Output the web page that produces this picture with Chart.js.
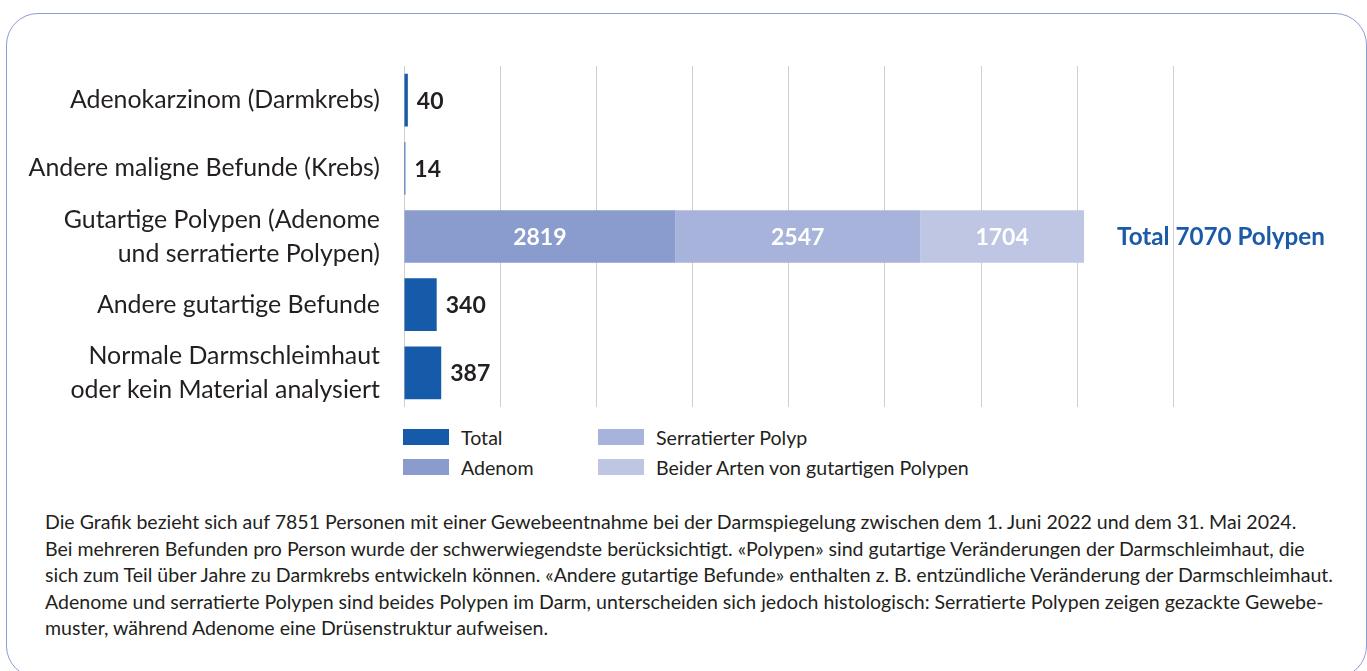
<!DOCTYPE html>
<html><head><meta charset="utf-8">
<script src="https://cdn.jsdelivr.net/npm/chart.js@4/dist/chart.umd.min.js"></script>
<style>
html,body{margin:0;padding:0;background:#fff;width:1367px;height:671px;overflow:hidden;font-family:Lato,"Open Sans",sans-serif;color:#231f20;}
#frame{position:absolute;left:6px;top:13px;width:1360.5px;height:665px;border:1.5px solid #8e9cd6;border-radius:32px;box-sizing:border-box;}
#c{position:absolute;left:0;top:0;}
#legend{position:absolute;left:403px;top:422px;display:grid;grid-auto-flow:column;grid-template-rows:30px 30px;grid-template-columns:195px auto;}
.li{display:flex;align-items:center;font-size:19.6px;height:30px;white-space:nowrap}
.sw{width:46px;height:16px;margin-right:12px;flex:none}
#note{position:absolute;left:45px;top:509px;font-size:19.55px;line-height:26.5px;white-space:nowrap}
</style></head>
<body>
<div id="frame"></div>
<canvas id="c" width="1367" height="420"></canvas>
<div id="legend"></div>
<div id="note"></div>
<script>
// ---- data ----
const categories = [
  ["Adenokarzinom (Darmkrebs)"],
  ["Andere maligne Befunde (Krebs)"],
  ["Gutartige Polypen (Adenome", "und serratierte Polypen)"],
  ["Andere gutartige Befunde"],
  ["Normale Darmschleimhaut", "oder kein Material analysiert"]
];
const seriesNames = ["Total", "Adenom", "Serratierter Polyp", "Beider Arten von gutartigen Polypen"];
const totalValues    = [40, 14, null, 340, 387];
const adenomValues   = [null, null, 2819, null, null];
const serratedValues = [null, null, 2547, null, null];
const bothValues     = [null, null, 1704, null, null];
const xAxisMax = 8000;
const xAxisStep = 1000;
const polypTotalWords = ["Total", "Polypen"];
const noteLines = [
  "Die Grafik bezieht sich auf 7851 Personen mit einer Gewebeentnahme bei der Darmspiegelung zwischen dem 1. Juni 2022 und dem 31. Mai 2024.",
  "Bei mehreren Befunden pro Person wurde der schwerwiegendste berücksichtigt. «Polypen» sind gutartige Veränderungen der Darmschleimhaut, die",
  "sich zum Teil über Jahre zu Darmkrebs entwickeln können. «Andere gutartige Befunde» enthalten z. B. entzündliche Veränderung der Darmschleimhaut.",
  "Adenome und serratierte Polypen sind beides Polypen im Darm, unterscheiden sich jedoch histologisch: Serratierte Polypen zeigen gezackte Gewebe-",
  "muster, während Adenome eine Drüsenstruktur aufweisen."
];

// ---- style ----
const colors = ["#165ba9", "#8a9bce", "#a8b3db", "#bec6e3"];
const textColor = "#231f20";
const FONT = "Lato, 'Open Sans', sans-serif";

const labelPlugin = {
  id: "barLabels",
  afterDatasetsDraw(chart) {
    const ctx = chart.ctx;
    ctx.save();
    ctx.textBaseline = "middle";
    let stackSum = {};
    chart.data.datasets.forEach((ds, di) => {
      const meta = chart.getDatasetMeta(di);
      meta.data.forEach((bar, i) => {
        const v = ds.data[i];
        if (v == null) return;
        ctx.font = "bold 23px " + FONT;
        if (di === 0) {
          ctx.fillStyle = textColor;
          ctx.textAlign = "left";
          ctx.fillText(String(v), bar.x + 9, bar.y + 1);
        } else {
          ctx.fillStyle = "#ffffff";
          ctx.textAlign = "center";
          ctx.fillText(String(v), (bar.x + bar.base) / 2, bar.y + 1);
          stackSum[i] = (stackSum[i] || 0) + v;
        }
      });
    });
    const xs = chart.scales.x, ys = chart.scales.y;
    ctx.font = "bold 24.2px " + FONT;
    Object.keys(stackSum).forEach(k => {
      const i = +k;
      const sum = stackSum[i];
      ctx.fillStyle = "#1a5aa8";
      ctx.textAlign = "left";
      ctx.fillText(polypTotalWords[0] + " " + sum + " " + polypTotalWords[1], xs.getPixelForValue(sum) + 33, ys.getPixelForValue(i) + 1);
    });
    ctx.restore();
  }
};

const datasetValues = [totalValues, adenomValues, serratedValues, bothValues];
const chart = new Chart(document.getElementById("c"), {
  type: "bar",
  data: {
    labels: categories,
    datasets: datasetValues.map((d, i) => ({
      label: seriesNames[i],
      data: d,
      backgroundColor: colors[i],
      borderWidth: 0,
      barPercentage: 0.773,
      categoryPercentage: 1
    }))
  },
  options: {
    indexAxis: "y",
    responsive: false,
    animation: false,
    devicePixelRatio: 1,
    layout: { padding: { left: 0, right: 193.5, top: 66, bottom: 13 } },
    plugins: { legend: { display: false }, tooltip: { enabled: false } },
    scales: {
      x: {
        stacked: true, min: 0, max: xAxisMax,
        ticks: { display: false, stepSize: xAxisStep },
        grid: { color: "#cfcfcf", lineWidth: 1, drawTicks: false },
        border: { display: false },
        afterFit: s => { s.height = 0; s.paddingLeft = 0; s.paddingRight = 0; }
      },
      y: {
        stacked: true,
        grid: { display: false, drawTicks: false },
        border: { display: false },
        ticks: { color: textColor, padding: 24, autoSkip: false, font: { family: FONT, size: 24.9, lineHeight: 1.365 } },
        afterFit: s => { s.width = 404; s.paddingTop = 0; s.paddingBottom = 0; }
      }
    }
  },
  plugins: [labelPlugin]
});

// legend from chart datasets
const lg = document.getElementById("legend");
chart.data.datasets.forEach(ds => {
  const it = document.createElement("div");
  it.className = "li";
  const sw = document.createElement("span");
  sw.className = "sw";
  sw.style.background = ds.backgroundColor;
  it.appendChild(sw);
  it.appendChild(document.createTextNode(ds.label));
  lg.appendChild(it);
});

// footnote
const note = document.getElementById("note");
noteLines.forEach(l => {
  const d = document.createElement("div");
  d.textContent = l;
  note.appendChild(d);
});
</script>
</body></html>
